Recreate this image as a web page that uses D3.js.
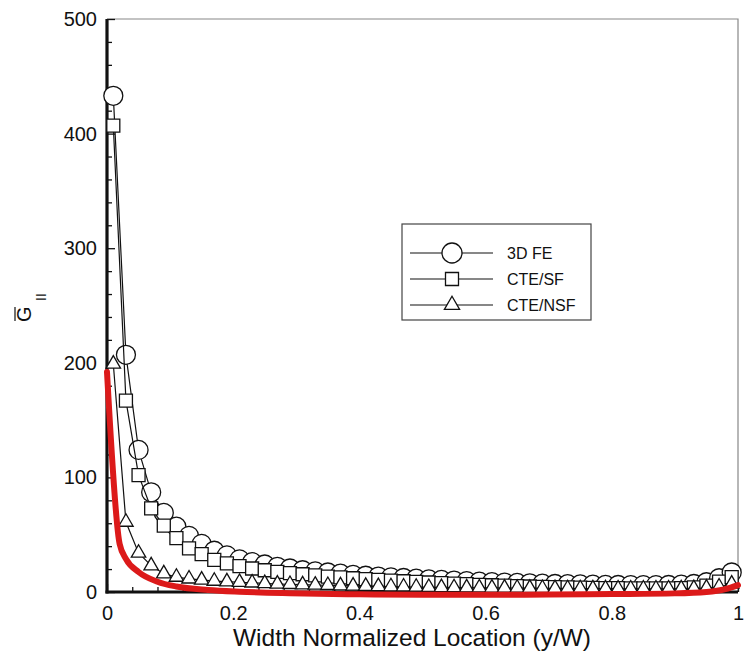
<!DOCTYPE html>
<html>
<head>
<meta charset="utf-8">
<script src="https://cdn.jsdelivr.net/npm/d3@7"></script>
<style>
  body { margin: 0; background: #fff; }
  svg { display: block; }
  text { font-family: "Liberation Sans", Arial, Helvetica, sans-serif; fill: #111; }
</style>
</head>
<body>
<div id="chart"></div>
<script>
// width normalized locations of the plotted points
const locations = [0.01, 0.03, 0.05, 0.07, 0.09, 0.11, 0.13, 0.15, 0.17, 0.19,
                   0.21, 0.23, 0.25, 0.27, 0.29, 0.31, 0.33, 0.35, 0.37, 0.39,
                   0.41, 0.43, 0.45, 0.47, 0.49, 0.51, 0.53, 0.55, 0.57, 0.59,
                   0.61, 0.63, 0.65, 0.67, 0.69, 0.71, 0.73, 0.75, 0.77, 0.79,
                   0.81, 0.83, 0.85, 0.87, 0.89, 0.91, 0.93, 0.95, 0.97, 0.99];

const fe3d = [433, 207, 124, 87, 69, 57, 49, 42, 36, 32,
              28.5, 26, 24, 22, 20.5, 19, 18, 17, 16, 15,
              14.2, 13.5, 12.8, 12.2, 11.6, 11, 10.5, 10, 9.5, 9,
              8.6, 8.2, 7.9, 7.6, 7.3, 7, 6.8, 6.6, 6.4, 6.2,
              6.1, 6, 6, 6, 6.1, 6.4, 7, 8.5, 12, 17];

const cteSF = [407, 167, 102, 73, 58, 47, 38, 33, 28, 25,
               22.5, 20.5, 19, 17.5, 16.5, 15.5, 14.5, 13.5, 12.8, 12,
               11.3, 10.6, 10, 9.4, 8.8, 8.3, 7.8, 7.3, 6.8, 6.3,
               5.9, 5.5, 5.1, 4.8, 4.5, 4.2, 4, 3.8, 3.6, 3.4,
               3.3, 3.2, 3.1, 3.1, 3.2, 3.4, 4, 5.5, 9, 13];

const cteNSF = [199, 61, 34, 23, 16, 13, 11.5, 10.5, 9.5, 9,
                8.5, 8, 7.5, 7, 6.7, 6.4, 6.1, 5.8, 5.5, 5.3,
                5.1, 4.9, 4.7, 4.5, 4.3, 4.1, 4, 3.9, 3.8, 3.7,
                3.6, 3.5, 3.4, 3.3, 3.2, 3.1, 3, 3, 2.9, 2.9,
                2.8, 2.8, 2.8, 2.8, 2.8, 2.9, 3.1, 3.5, 4.5, 7];

// red overlay curve
const redX = [0, 0.02, 0.03, 0.05, 0.08, 0.11, 0.16, 0.21, 0.29, 0.4, 0.5, 0.6, 0.7, 0.8, 0.9, 0.95, 0.98, 1.0];
const redY = [192, 42, 29, 17.5, 9, 4.8, 1.8, 0.3, -1, -2, -2.5, -2.5, -2.2, -1.8, -1.2, 0, 2.5, 6];

const xTicks = [0, 0.2, 0.4, 0.6, 0.8, 1];
const xMinorTicks = [0.04, 0.08, 0.12, 0.16, 0.24, 0.28, 0.32, 0.36, 0.44, 0.48, 0.52, 0.56,
                     0.64, 0.68, 0.72, 0.76, 0.84, 0.88, 0.92, 0.96];
const yTicks = [0, 100, 200, 300, 400, 500];
const yMinorTicks = [20, 40, 60, 80, 120, 140, 160, 180, 220, 240, 260, 280,
                     320, 340, 360, 380, 420, 440, 460, 480];
const seriesNames = ["3D FE", "CTE/SF", "CTE/NSF"];

const width = 744, height = 659;
const plotLeft = 107, plotRight = 738, plotTop = 19, plotBottom = 592;

const svg = d3.select("#chart").append("svg")
    .attr("width", width)
    .attr("height", height);

const x = d3.scaleLinear().domain([0, 1]).range([plotLeft, plotRight]);
const y = d3.scaleLinear().domain([0, 500]).range([plotBottom, plotTop]);

// thin top / right frame
svg.append("path")
    .attr("d", `M${plotLeft},${plotTop}H${plotRight}V${plotBottom}`)
    .attr("fill", "none")
    .attr("stroke", "#888")
    .attr("stroke-width", 1.2);

// axes with inward ticks
svg.append("g").attr("transform", `translate(0,${plotBottom})`)
    .call(d3.axisBottom(x).tickValues(xTicks).tickSize(-8).tickPadding(14)
        .tickFormat(d3.format("~g")));
svg.append("g").attr("transform", `translate(0,${plotBottom})`)
    .call(d3.axisBottom(x).tickValues(xMinorTicks).tickSize(-5).tickFormat(""));

svg.append("g").attr("transform", `translate(${plotLeft},0)`)
    .call(d3.axisLeft(y).tickValues(yTicks).tickSize(-8).tickPadding(10));
svg.append("g").attr("transform", `translate(${plotLeft},0)`)
    .call(d3.axisLeft(y).tickValues(yMinorTicks).tickSize(-5).tickFormat(""));

svg.selectAll(".domain").remove();
svg.selectAll(".tick line").attr("stroke", "#111").attr("stroke-width", 1.3);
svg.selectAll(".tick text").attr("font-size", 20)
    .attr("font-family", "\"Liberation Sans\", Arial, sans-serif").attr("fill", "#111");

// thick left and bottom axis lines
svg.append("line").attr("x1", plotLeft).attr("x2", plotLeft).attr("y1", plotTop).attr("y2", plotBottom + 1.5)
    .attr("stroke", "#111").attr("stroke-width", 3.2);
svg.append("line").attr("x1", plotLeft - 1.5).attr("x2", plotRight).attr("y1", plotBottom).attr("y2", plotBottom)
    .attr("stroke", "#111").attr("stroke-width", 3.2);

// axis titles
svg.append("text")
    .attr("x", 412).attr("y", 646)
    .attr("text-anchor", "middle")
    .attr("font-size", 24.5)
    .text("Width Normalized Location (y/W)");

const yTitle = svg.append("g").attr("transform", "translate(31,322) rotate(-90)");
yTitle.append("text").attr("x", 0).attr("y", 0).attr("font-size", 20).text("G");
yTitle.append("text").attr("x", 21).attr("y", 15).attr("font-size", 14).text("II");
yTitle.append("line").attr("x1", 1).attr("x2", 15).attr("y1", -16).attr("y2", -16)
    .attr("stroke", "#111").attr("stroke-width", 1.2);

// series
const series = [
    { name: seriesNames[0], values: fe3d, symbol: d3.symbolCircle, size: Math.PI * 9.5 * 9.5 },
    { name: seriesNames[1], values: cteSF, symbol: d3.symbolSquare, size: 13 * 13 },
    { name: seriesNames[2], values: cteNSF, symbol: d3.symbolTriangle, size: 90 }
];

const line = d3.line()
    .x(d => x(d[0]))
    .y(d => y(d[1]));

series.forEach(s => {
    const pts = locations.map((l, i) => [l, s.values[i]]);
    const g = svg.append("g");
    g.append("path")
        .attr("d", line(pts))
        .attr("fill", "none")
        .attr("stroke", "#111")
        .attr("stroke-width", 1.2);
    g.selectAll("path.mark")
        .data(pts)
        .enter()
        .append("path")
        .attr("class", "mark")
        .attr("transform", d => `translate(${x(d[0])},${y(d[1])})`)
        .attr("d", d3.symbol().type(s.symbol).size(s.size))
        .attr("fill", "#fff")
        .attr("stroke", "#111")
        .attr("stroke-width", 1.3);
});

// red curve
const redPts = redX.map((v, i) => [v, redY[i]]);
const redLine = d3.line().x(d => x(d[0])).y(d => y(d[1])).curve(d3.curveMonotoneX);
svg.append("path")
    .attr("d", redLine(redPts))
    .attr("fill", "none")
    .attr("stroke", "#dc1a1a")
    .attr("stroke-width", 6)
    .attr("stroke-linejoin", "round")
    .attr("stroke-linecap", "round");

// legend
const legend = svg.append("g");
legend.append("rect")
    .attr("x", 402).attr("y", 224)
    .attr("width", 189).attr("height", 96)
    .attr("fill", "#fff")
    .attr("stroke", "#444")
    .attr("stroke-width", 1.2);

const legendSizes = [Math.PI * 10 * 10, 169, 100];
const rows = legend.selectAll("g.row")
    .data(series)
    .enter()
    .append("g")
    .attr("class", "row")
    .attr("transform", (d, i) => `translate(0,${253 + i * 26})`);

rows.append("line")
    .attr("x1", 410).attr("x2", 493)
    .attr("stroke", "#111").attr("stroke-width", 1.2);
rows.append("path")
    .attr("transform", "translate(452,0)")
    .attr("d", (d, i) => d3.symbol().type(d.symbol).size(legendSizes[i])())
    .attr("fill", "#fff")
    .attr("stroke", "#111")
    .attr("stroke-width", 1.3);
rows.append("text")
    .attr("x", 507).attr("dy", "0.36em")
    .attr("font-size", 16)
    .text(d => d.name);
</script>
</body>
</html>
